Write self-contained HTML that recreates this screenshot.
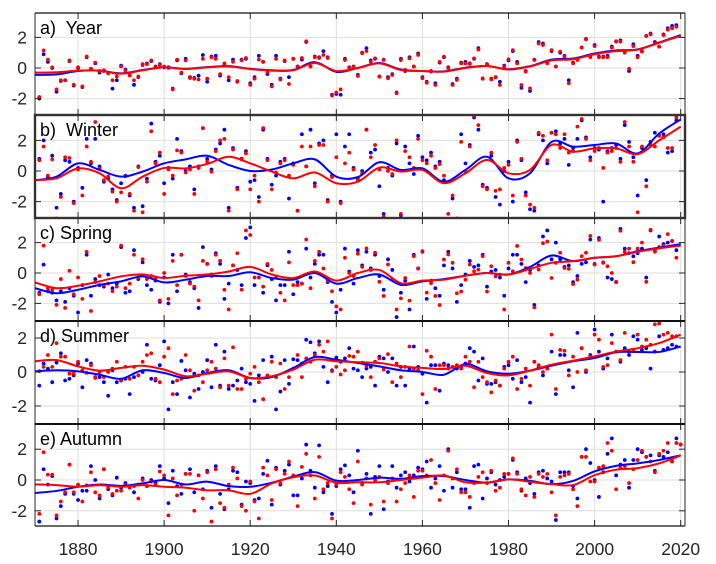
<!DOCTYPE html>
<html><head><meta charset="utf-8">
<style>
html,body{margin:0;padding:0;background:#fff;}
svg{display:block;font-family:"Liberation Sans",Arial,sans-serif;}
text{white-space:pre;}
</style></head>
<body>
<svg id="chart" width="716" height="564" viewBox="0 0 716 564" xmlns="http://www.w3.org/2000/svg"></svg>
<script>
// ---------- data ----------
const firstYear = 1871;
const xTickYears = [1880, 1900, 1920, 1940, 1960, 1980, 2000, 2020];
const xTickLabels = ["1880", "1900", "1920", "1940", "1960", "1980", "2000", "2020"];
const yTickValues = [-2, 0, 2];
const yTickLabels = ["-2", "0", "2"];
const panelTitles = ["a)  Year", "b)  Winter", "c) Spring", "d) Summer", "e) Autumn"];
const smoothStartYear = 1870;
const smoothStep = 5;

const yearRed = [-1.9,1.15,0.55,0.05,-1.4,-0.8,-0.8,0.5,-1.1,0.05,-1.2,0.75,-0.05,0.35,-0.2,-0.15,-0.35,-0.8,-0.55,0.1,-0.15,-0.5,-0.8,-0.55,0.25,0.25,0.5,0.05,0.2,0.1,0.0,-1.4,0.55,-0.3,0.5,-0.65,-0.7,-0.75,0.6,-0.7,0.7,0.6,-0.4,0.3,-0.6,0.4,-0.85,0.5,0.65,-1.1,-0.7,0.55,0.4,-0.3,-1.2,0.6,-0.75,0.5,-1.05,0.6,0.1,0.65,1.75,0.1,0.7,0.65,0.85,0.65,-1.8,-1.6,-1.4,0.52,0,0.09,-0.52,0.96,1.1,0.41,0.63,-0.57,0.52,-0.67,-0.46,-1.65,0.52,-0.13,0.63,0.09,0.85,-0.67,-0.96,-0.24,-1.11,0.41,0.74,0,-1.11,-0.78,0.3,0.3,0.26,0.63,1.2,-0.67,0.2,-0.74,-0.61,-1.11,0.09,0.57,1.17,0.3,-1.11,-0.24,-1.33,0.52,1.6,1.5,0.3,1.17,0.09,1.07,0.74,-1.0,0.3,0.52,1.33,1.87,0.7,1.43,0.7,0.7,0.7,1.33,1.72,1.72,1.0,-0.05,1.43,0.7,1.07,2.09,2.2,1.61,1.39,2.15,2.5,2.6,2.7];
const yearBlue = [-2.0,0.9,0.4,0.0,-1.55,-0.85,-0.8,0.45,-1.15,0.0,-1.25,0.7,-0.05,0.3,-0.3,-0.2,-0.3,-1.35,-0.8,0.15,-0.1,-0.45,-1.1,-0.6,0.2,0.3,0.45,0.1,0.25,0.05,0.05,-1.35,0.5,-0.35,0.6,-0.6,-0.65,-0.5,0.85,-0.9,0.75,0.8,-0.5,0.2,-0.8,0.55,-0.9,0.55,0.6,-1.0,-0.6,0.8,0.4,-0.4,-1.1,0.8,-0.7,0.45,-0.6,0.6,0.1,0.55,1.7,0.1,0.75,0.7,1.1,0.7,-1.75,-1.7,-1.75,0.6,0.05,0.1,-0.45,1.0,1.3,0.5,0.6,-0.55,0.55,-0.6,-0.4,-1.6,0.6,-0.2,0.7,0.1,0.95,-0.6,-0.9,-0.2,-1.0,0.35,0.7,0.05,-1.05,-0.7,0.35,0.4,0.3,0.6,1.3,-0.7,0.25,-0.7,-0.6,-0.9,0.15,0.5,1.1,0.4,-1.3,-0.2,-1.5,0.55,1.7,1.6,0.35,1.1,0.1,1.0,0.8,-0.8,0.35,0.6,1.35,1.9,0.75,1.5,0.75,0.75,0.8,1.4,1.75,1.8,1.05,-0.2,1.55,0.8,1.1,2.1,2.25,1.7,1.4,2.2,2.6,2.75,2.8];

const winterRed = [0.7,1.6,-0.3,0.75,-3.1,-1.7,0.9,0.85,-2.1,0.1,-1.6,1.6,0.6,3.2,0.15,-0.6,-0.35,-1.35,-2.0,-1.4,-0.35,-1.5,-2.6,0.25,-2.7,-0.7,2.6,0.5,1.2,-1.5,0.1,-0.3,1.35,1.2,-0.1,0.1,-1.5,0.2,2.8,0.6,-0.05,1.3,2.0,2.1,-2.6,1.4,-1.2,0.75,1.15,-1.2,-0.3,-2.0,2.8,0.7,-1.2,-0.1,0.5,0.7,-0.3,0.4,-2.6,1.6,0.3,1.6,-1.0,1.7,1.7,-2.0,-0.4,0.9,-2.1,0.5,1.2,0.1,-0.6,-0.15,2.7,0.9,1.7,0.1,-3.0,0.0,-0.2,2.0,-2.8,1.3,0.9,0.2,2.1,0.7,0.5,1.0,0.2,0.45,-0.3,-2.8,-1.6,-3.1,1.9,0.0,1.6,3.6,3.0,-1.0,-1.2,1.2,-1.3,-1.2,0.2,0.4,-1.6,1.9,0.8,-1.6,-2.2,-2.4,2.5,2.3,0.7,2.5,2.4,1.5,2.4,1.2,1.3,2.9,3.4,2.1,0.7,1.3,1.5,0.2,1.2,1.3,1.5,0.6,3.2,1.6,0.6,-2.7,1.6,-1.0,1.7,1.6,2.3,2.2,1.5,1.5,3.5];
const winterBlue = [0.8,2.0,-0.4,1.0,-2.4,-1.5,0.7,0.6,-2.0,0.2,-1.1,2.1,0.5,2.1,0.3,-0.7,-0.5,-1.2,-1.9,-0.8,-0.3,-1.6,-2.4,0.3,-2.3,-0.5,3.1,0.6,1.0,-0.8,0.2,-0.5,2.1,1.3,0.0,0.3,-1.2,0.3,2.8,0.8,0.1,1.4,1.8,2.7,-2.4,1.5,-1.1,0.8,1.3,-0.7,-0.6,-1.7,2.7,0.8,-0.9,-0.3,0.6,0.8,-1.8,0.5,-2.6,2.4,0.3,2.7,-0.8,1.8,2.0,-1.9,-0.3,2.4,-2.0,1.6,2.4,0.2,-0.5,0.0,2.7,1.2,1.4,-1.0,-2.8,0.2,-0.3,1.8,-2.9,1.6,0.5,-0.2,2.3,0.9,0.7,1.2,0.3,0.6,-0.6,-3.2,-1.8,-3.3,2.4,0.5,1.7,3.5,2.7,-0.9,-1.1,1.0,-1.7,-2.2,0.0,0.6,-2.0,2.0,0.7,-1.4,-2.5,-2.6,2.4,2.0,0.5,2.5,2.6,1.8,2.1,0.4,1.5,2.1,3.3,2.2,0.9,1.5,1.4,-2.0,1.3,1.5,1.7,0.8,3.0,1.9,0.9,-1.6,1.5,-0.6,1.9,2.5,2.3,2.4,1.2,1.3,3.3];

const springRed = [-1.4,1.8,-1.0,-1.1,-2.1,-0.4,-2.3,0.15,-1.4,-0.3,-1.7,1.4,-2.5,-0.6,-0.2,-0.8,-0.7,-1.2,-0.9,1.8,-1.0,-0.7,1.2,-0.3,0.9,-0.4,-0.2,-0.3,-1.8,0.0,-1.7,0.8,-0.8,1.2,-0.2,-0.7,-0.9,-1.8,0.8,0.6,-0.2,1.2,0.8,-1.1,-2.4,0.5,1.3,-1.1,2.8,2.5,-0.3,-0.3,-0.9,0.6,0.2,-0.3,-1.3,-1.8,0.7,-0.8,-0.8,-0.7,2.2,-1.0,0.8,1.4,0.3,-0.5,-1.2,-2.2,-2.4,1.0,0.0,-0.2,1.27,0.4,1.62,0.2,1.33,-0.58,-1.51,0.56,-0.44,-2.4,-1.67,-0.33,-1.82,1.11,0.3,1.44,-1.29,-0.67,-1.51,-2.11,0.89,1.22,0.67,-1.33,-1.22,-0.44,0.56,0.11,0.22,1.11,-1.22,0.44,-0.22,-0.11,-2.4,0.67,0.11,1.78,0.89,0.33,0,-2.27,0.22,1.96,2.07,-0.33,0.67,1.33,0.33,0.27,-0.73,-0.44,1.11,1.33,2.44,0.56,2.18,0.67,0.44,0,-0.58,2.78,1.4,1.6,0.71,1.6,2.0,-0.58,2.84,1.4,1.71,1.78,2.56,2.11,1.0];
const springBlue = [-1.3,0.55,-1.2,-1.3,-1.8,-1.2,-1.9,-1.0,-1.5,-2.6,-0.8,1.2,-1.5,-0.4,-0.8,-0.9,-0.1,-1.0,-0.7,1.7,-1.3,-1.2,1.5,-0.4,0.7,-0.8,-1.1,-0.5,-1.9,-0.3,-2.0,1.2,-1.2,1.2,-0.1,-0.6,-1.0,-2.3,1.7,0.6,-0.1,1.3,0.6,-1.7,-0.7,0.5,0.2,-0.8,2.3,3.0,-0.8,-0.3,-1.3,0.5,-0.4,-1.8,-0.8,-0.8,1.4,-1.4,-0.6,-0.7,1.6,-0.3,0.6,1.2,1.2,-0.6,-1.9,-2.6,-1.1,1.6,0.1,-0.7,1.5,0.5,1.4,0.3,1.2,-0.2,-1.1,0.9,0.2,-2.9,-1.3,-0.5,-2.4,1.2,0.3,1.4,-1.7,-0.5,-1.0,-1.5,0.5,1.4,0.3,-1.9,-0.8,-0.1,0.8,0.4,0.5,1.2,-0.9,0.1,0.2,-0.3,-1.5,0.3,1.2,1.2,0.6,-0.6,0.2,-2.1,0.5,2.4,2.8,0.9,2.0,0.9,0.4,0.5,-0.6,-0.2,0.6,0.7,2.2,0.6,2.3,0.7,-0.3,-0.4,-0.6,2.9,1.6,1.3,1.1,1.3,1.6,-0.3,2.8,1.5,2.4,1.9,2.0,2.1,1.5];

const summerRed = [0.05,0.3,1.0,0.3,1.7,0.9,0.9,-0.1,-0.1,0.6,0.1,-0.05,0.4,-0.35,0.0,-0.3,0.0,0.2,0.6,-0.5,0.3,-0.4,0.3,-0.2,0.6,1.0,1.1,-0.4,-0.6,0.9,1.4,-1.3,-0.5,-0.4,1.0,0.1,-1.1,-0.2,-0.6,0.1,0.6,0.2,-0.9,0.8,-0.8,1.45,-1.0,-1.0,-0.4,-0.1,0.3,-0.6,-1.6,-0.2,0.6,-0.3,0.5,-1.0,-0.3,0.2,1.0,-0.3,0.8,0.6,1.0,1.6,1.2,1.8,0.05,0.3,-0.15,0.1,0.95,0.9,1.2,0.55,0.35,-0.3,0.6,0.8,0.15,1.05,-0.6,0.5,-0.3,0.3,1.5,0.2,0.1,-1.3,1.25,0.9,-1.0,0.4,0.4,0.2,0.3,0.4,0.2,0.9,0.6,-0.9,0.6,-0.3,-0.6,-1.2,-0.5,-0.8,0.2,0.6,0.9,-1.0,-0.4,0.2,-0.8,0.6,0.4,0.0,0.2,2.2,-1.0,1.3,1.25,-0.2,0.9,0.0,1.4,0.1,0.9,2.2,1.9,0.3,0.4,1.7,1.2,0.7,2.3,1.2,1.3,2.2,1.5,1.9,1.6,2.8,2.85,2.2,2.3,2.1,2.1];
const summerBlue = [-0.8,0.5,0.2,-0.6,0.55,1.1,-0.5,-0.4,-0.2,0.5,-0.9,0.7,0.5,-0.3,-0.3,-0.6,-1.4,0.1,-0.6,-0.5,-0.4,-1.3,-0.3,-0.2,0.0,1.6,-0.4,-0.5,0.4,1.8,-2.2,-0.6,-1.3,0.65,0.1,-1.5,-0.1,-1.0,0.0,0.7,-0.9,1.6,-0.8,1.2,-1.0,-0.8,-0.5,0.2,-0.6,-0.7,-1.7,-0.2,0.7,-0.3,0.9,-2.2,-1.15,0.7,-0.7,0.75,0.7,0.5,1.9,1.75,1.1,1.8,0.3,-0.6,0.1,0.85,0.6,0.8,1.4,0.2,0.1,-0.3,0.2,0.3,-0.8,0.9,0.8,0.0,0.8,-0.8,0.3,-0.8,0.2,1.5,0.3,-0.1,-1.8,0.4,0.4,-1.1,0.5,0.4,0.3,0.2,0.3,0.5,1.4,1.2,-0.5,0.8,-0.7,-0.7,-0.6,-0.8,0.3,0.4,-0.4,0.7,-0.6,-0.3,-1.8,0.6,0.3,-0.2,0.2,1.2,-1.3,1.0,1.0,0.1,-0.9,2.3,1.4,0.0,1.0,2.5,1.2,0.2,0.8,2.2,1.2,0.6,1.4,1.0,2.1,1.9,1.3,1.4,0.2,1.2,2.1,1.3,1.4,1.6,1.5];

const autumnRed = [-2.2,1.8,0.35,0.35,-2.3,-1.4,-0.8,1.0,-0.8,-0.3,-1.4,-0.35,0.5,-0.8,-1.0,0.7,-0.5,-0.9,-0.7,-0.7,-0.3,-0.5,-0.4,-1.2,0.0,-0.4,-0.1,-0.3,0.55,0.3,-2.3,0.1,-1.0,-0.3,0.4,0.4,-2.0,0.3,-1.2,0.5,-2.7,0.7,-1.5,-1.8,-0.3,0.8,0.1,-1.7,-2.0,-0.1,-1.4,-2.5,0.8,0.3,-1.3,0.7,-0.2,0.4,1.2,0.3,-1.7,0.85,1.7,0.3,-1.2,1.5,-0.6,-0.2,-2.5,-0.3,0.5,0.2,-0.6,-1.5,1.2,-0.3,0.1,-1.6,0.0,0.2,-1.4,-0.2,0.1,-1.4,-0.6,-0.2,0.3,-1.1,0.6,0.6,0.3,1.3,-0.2,-1.3,0.3,1.9,0.1,0.7,-0.8,-0.8,-1.1,-0.2,0.2,0.5,-0.2,0.6,-0.7,-0.5,0.4,0.4,1.4,0.4,-0.6,-1.0,0.2,-1.1,0.4,0.2,0.4,-0.8,-2.3,0.2,0.3,0.4,-0.6,-1.7,1.5,1.5,-0.1,-0.1,0.8,0.9,2.4,1.9,-0.6,0.8,0.9,-0.2,0.7,1.3,1.9,1.5,1.2,0.5,1.7,1.9,2.4,1.2,2.4,2.3];
const autumnBlue = [-2.7,0.7,-0.3,0.25,-2.5,-1.7,-0.9,1.0,-0.9,-1.3,-0.7,-0.7,0.9,0.0,-1.2,0.7,-0.6,-1.0,0.15,-0.5,-0.2,-0.4,-0.8,-0.3,0.1,-0.4,0.0,-0.2,0.9,0.1,-1.5,0.6,-0.4,-0.9,0.4,0.7,-0.8,0.3,-0.6,0.6,-1.8,0.9,-0.9,-1.9,-0.6,0.6,0.5,-1.6,-0.1,-0.2,-1.3,-1.2,0.4,1.25,-1.6,0.8,-0.3,0.6,1.0,-1.0,-1.0,0.1,2.3,0.6,-0.5,2.25,-0.8,-0.4,-2.2,-0.4,0.7,0.95,0.3,-0.8,1.9,-0.2,0.4,-2.2,0.2,0.9,-1.9,-0.1,0.9,-0.5,0.3,0.5,-0.1,0.3,0.8,0.7,1.2,-0.5,0.1,0.9,-0.7,2.0,-0.5,0.5,-0.6,-0.6,-1.8,0.9,1.0,-1.2,0.1,0.5,-0.3,0.0,0.2,0.4,1.3,0.5,-0.7,0.1,-0.2,-0.9,0.5,0.6,0.1,-0.1,-2.6,0.5,0.5,0.5,-0.4,-1.2,1.5,2.0,1.1,0.0,-1.1,0.5,1.7,2.7,0.3,1.0,1.3,-0.5,1.3,2.0,1.8,1.5,1.6,0.6,1.6,1.5,1.8,1.2,2.7,2.3];

const yearRedSmooth   = [-0.3,-0.28,-0.17,-0.17,-0.37,-0.15,0.04,-0.07,0.04,0.1,-0.07,-0.17,-0.15,0.33,-0.2,0.0,0.3,-0.13,-0.2,-0.24,0.0,0.13,-0.1,0.1,0.5,0.57,0.9,1.1,1.2,1.65,2.1];
const yearBlueSmooth  = [-0.45,-0.42,-0.2,-0.17,-0.35,-0.13,0.04,-0.05,0.06,0.12,-0.05,-0.15,-0.13,0.38,-0.25,0.0,0.33,-0.1,-0.2,-0.22,0.02,0.13,-0.08,0.12,0.55,0.62,0.95,1.15,1.22,1.67,2.15];
const winterRedSmooth = [-0.6,-0.48,0.17,-0.15,-1.13,-0.37,0.2,0.17,0.46,0.93,0.5,-0.04,-0.48,-0.1,-0.8,-0.7,0.22,-0.04,0.07,-0.8,-0.15,0.72,-0.15,0.07,1.7,1.26,1.48,1.48,1.1,2.0,2.9];
const winterBlueSmooth= [-0.6,-0.37,0.5,0.07,-0.37,-0.04,0.5,0.76,1.0,0.4,0.0,0.1,0.5,0.76,-0.37,-0.4,0.57,0.07,0.17,-0.7,0.07,0.93,-0.48,-0.15,1.9,1.59,1.7,1.8,1.15,2.45,3.37];
const springRedSmooth = [-0.62,-1.0,-0.84,-0.55,-0.22,-0.1,-0.33,-0.18,-0.1,0.1,0.4,-0.1,-0.33,0.1,-0.5,0.0,0.2,-0.67,-0.5,-0.44,-0.18,0.0,-0.1,0.27,0.67,0.78,1.0,1.1,1.4,1.62,1.8];
const springBlueSmooth= [-1.0,-1.33,-1.1,-0.78,-0.55,-0.22,-0.62,-0.44,-0.2,-0.2,0.05,-0.33,-0.44,0.0,-0.7,-0.33,-0.1,-0.78,-0.55,-0.4,-0.18,0.0,-0.1,0.4,1.15,0.78,1.0,1.1,1.44,1.67,1.9];
const summerRedSmooth = [0.63,0.7,0.33,0.08,0.24,0.37,0.14,-0.25,-0.1,0.04,-0.35,-0.25,0.14,0.72,0.63,0.57,0.53,0.33,0.24,0.18,0.37,-0.06,-0.2,0.08,0.43,0.66,0.92,1.2,1.4,1.7,2.2];
const summerBlueSmooth= [0.04,0.1,0.04,-0.16,-0.4,0.1,-0.06,-0.35,-0.06,0.1,-0.35,-0.3,0.24,0.88,0.72,0.53,0.33,0.1,0.0,-0.16,0.47,0.04,-0.1,0.08,0.37,0.63,0.82,1.16,1.18,1.18,1.5];
const autumnRedSmooth = [-0.29,-0.33,-0.44,-0.33,-0.44,-0.33,-0.44,-0.5,-0.67,-0.67,-0.9,-0.22,0.18,0.29,-0.18,-0.15,-0.15,0.0,0.15,0.29,-0.15,-0.17,0.04,-0.12,-0.27,-0.33,0.31,0.67,0.77,1.08,1.6];
const autumnBlueSmooth= [-0.84,-0.71,-0.44,-0.29,-0.38,-0.22,0.0,-0.29,-0.11,-0.4,-0.44,-0.18,0.22,0.51,-0.04,0.0,0.15,0.08,0.25,0.25,0.0,-0.17,0.04,-0.06,-0.27,-0.06,0.56,0.92,1.08,1.3,1.6];

// ---------- layout ----------
const NS = "http://www.w3.org/2000/svg";
const svg = document.getElementById("chart");
const X0 = 35, X1 = 685, YR0 = 1870, YR1 = 2021;
function xScale(yr){ return X0 + (yr - YR0) * (X1 - X0) / (YR1 - YR0); }

const panels = [
  {key:"year",   top:13,  bottom:115, zero:68,  ppu:15.3, red:yearRed,   blue:yearBlue,   rs:yearRedSmooth,   bs:yearBlueSmooth},
  {key:"winter", top:115, bottom:218, zero:171, ppu:15.3, red:winterRed, blue:winterBlue, rs:winterRedSmooth, bs:winterBlueSmooth},
  {key:"spring", top:218, bottom:321, zero:273, ppu:15.2, red:springRed, blue:springBlue, rs:springRedSmooth, bs:springBlueSmooth},
  {key:"summer", top:321, bottom:424, zero:372, ppu:17.0, red:summerRed, blue:summerBlue, rs:summerRedSmooth, bs:summerBlueSmooth},
  {key:"autumn", top:424, bottom:526, zero:480, ppu:15.4, red:autumnRed, blue:autumnBlue, rs:autumnRedSmooth, bs:autumnBlueSmooth}
];

function mk(tag, attrs, parent){
  const e = document.createElementNS(NS, tag);
  for (const k in attrs) e.setAttribute(k, attrs[k]);
  (parent || svg).appendChild(e);
  return e;
}
function pathFrom(pts){
  let d = "M" + pts[0][0].toFixed(2) + "," + pts[0][1].toFixed(2);
  for (let i = 0; i < pts.length - 1; i++){
    const p0 = pts[Math.max(0, i-1)], p1 = pts[i], p2 = pts[i+1], p3 = pts[Math.min(pts.length-1, i+2)];
    const c1x = p1[0] + (p2[0]-p0[0])/6, c1y = p1[1] + (p2[1]-p0[1])/6;
    const c2x = p2[0] - (p3[0]-p1[0])/6, c2y = p2[1] - (p3[1]-p1[1])/6;
    d += " C" + c1x.toFixed(2)+","+c1y.toFixed(2)+" "+c2x.toFixed(2)+","+c2y.toFixed(2)+" "+p2[0].toFixed(2)+","+p2[1].toFixed(2);
  }
  return d;
}

const defs = mk("defs", {});
panels.forEach((p, pi) => {
  const yScale = v => p.zero - v * p.ppu;
  const g = mk("g", {});
  
  

  const cp = mk("clipPath", {id: "clip" + pi}, defs);
  mk("rect", {x: X0, y: p.top, width: X1 - X0, height: p.bottom - p.top}, cp);

  const grid = mk("g", {stroke: "#dedede", "stroke-width": 1}, g);
  
  
  xTickYears.forEach(yr => { const x = xScale(yr); mk("line", {x1: x, x2: x, y1: p.top, y2: p.bottom}, grid); });
  yTickValues.forEach(v => { const y = yScale(v); mk("line", {x1: X0, x2: X1, y1: y, y2: y}, grid); });

  const dots = mk("g", {"clip-path": "url(#clip" + pi + ")"}, g);
  [["blue", p.blue, "#0000ff"], ["red", p.red, "#ff0000"]].forEach(([nm, arr, col]) => {
    const sg = mk("g", {fill: col}, dots);
    
    
    arr.forEach((v, i) => {
      mk("circle", {cx: xScale(firstYear + i).toFixed(2), cy: yScale(v).toFixed(2), r: 1.9}, sg);
    });
  });

  [["blue", p.bs, "#0000ff"], ["red", p.rs, "#ff0000"]].forEach(([nm, arr, col]) => {
    const pts = arr.map((v, i) => [xScale(smoothStartYear + i * smoothStep), yScale(v)]);
    const ln = mk("path", {d: pathFrom(pts), fill: "none", stroke: col, "stroke-width": 2, "clip-path": "url(#clip" + pi + ")"}, g);
    
    
  });

  const ax = mk("g", {stroke: "#262626", "stroke-width": 1, fill: "none"}, g);
  
  
  mk("line", {x1: X0, x2: X0, y1: p.top, y2: p.bottom}, ax);
  mk("line", {x1: X1, x2: X1, y1: p.top, y2: p.bottom}, ax);
  xTickYears.forEach(yr => {
    const x = xScale(yr);
    mk("line", {x1: x, x2: x, y1: p.top, y2: p.top + 6}, ax);
    mk("line", {x1: x, x2: x, y1: p.bottom, y2: p.bottom - 6}, ax);
  });
  yTickValues.forEach(v => {
    const y = yScale(v);
    mk("line", {x1: X0, x2: X0 + 6, y1: y, y2: y}, ax);
    mk("line", {x1: X1, x2: X1 - 6, y1: y, y2: y}, ax);
  });

  yTickValues.forEach((v, i) => {
    const t = mk("text", {x: 27, y: yScale(v) + 6, "text-anchor": "end", "font-size": 17.5, fill: "#262626"}, g);
    t.textContent = yTickLabels[i];
    
    
  });

  const tt = mk("text", {x: 40, y: p.top + 21, "font-size": 18, fill: "#000"}, g);
  tt.textContent = panelTitles[pi];
  
  
});

const sep = mk("g", {stroke: "#111", "stroke-width": 2});


mk("line", {x1: X0, x2: X1, y1: 13, y2: 13, "stroke-width": 1.2}, sep);
[321, 424].forEach(y => mk("line", {x1: X0, x2: X1, y1: y, y2: y}, sep));
mk("line", {x1: X0, x2: X1, y1: 526, y2: 526, "stroke-width": 1.2}, sep);
const box = mk("rect", {x: X0, y: 115, width: X1 - X0, height: 103, fill: "none", stroke: "#333", "stroke-width": 2.4});



xTickYears.forEach((yr, i) => {
  const t = mk("text", {x: xScale(yr), y: 555, "text-anchor": "middle", "font-size": 17.5, fill: "#262626"});
  t.textContent = xTickLabels[i];
  
  
});
</script>
</body></html>
